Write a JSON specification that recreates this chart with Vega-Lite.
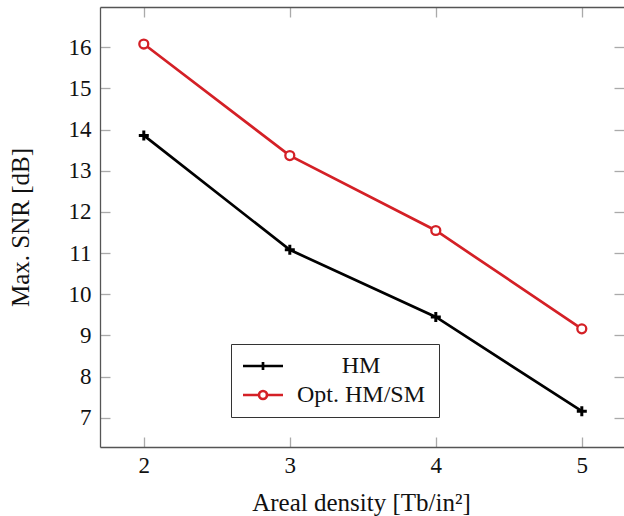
{
  "$schema": "https://vega.github.io/schema/vega-lite/v6.json",
  "width": 524,
  "height": 440,
  "autosize": {"type": "none"},
  "padding": {"left": 100, "top": 7, "right": 0, "bottom": 69},
  "background": "white",
  "config": {
    "view": {"stroke": null},
    "font": "Liberation Serif",
    "axis": {
      "grid": false,
      "labelFont": "Liberation Serif",
      "titleFont": "Liberation Serif",
      "labelFontSize": 23,
      "titleFontSize": 25,
      "labelColor": "#111",
      "titleColor": "#111",
      "titleFontWeight": "normal",
      "domainColor": "#555",
      "domainWidth": 1.3,
      "tickColor": "#aaa",
      "tickWidth": 1.3,
      "tickSize": -10
    }
  },
  "resolve": {"axis": {"x": "independent", "y": "independent"}},
  "data": {
    "values": [
      {"density": 2, "snr": 13.86, "series": "HM"},
      {"density": 3, "snr": 11.08, "series": "HM"},
      {"density": 4, "snr": 9.45, "series": "HM"},
      {"density": 5, "snr": 7.16, "series": "HM"},
      {"density": 2, "snr": 16.08, "series": "Opt.  HM/SM"},
      {"density": 3, "snr": 13.37, "series": "Opt.  HM/SM"},
      {"density": 4, "snr": 11.55, "series": "Opt.  HM/SM"},
      {"density": 5, "snr": 9.16, "series": "Opt.  HM/SM"}
    ]
  },
  "encoding": {
    "x": {
      "field": "density", "type": "quantitative",
      "scale": {"domain": [1.7, 5.289], "nice": false, "zero": false},
      "axis": null
    },
    "y": {
      "field": "snr", "type": "quantitative",
      "scale": {"domain": [6.29, 16.98], "nice": false, "zero": false},
      "axis": null
    }
  },
  "layer": [
    {
      "mark": {"type": "rule", "opacity": 0},
      "encoding": {
        "x": {
          "field": "density", "type": "quantitative",
          "axis": {
            "orient": "bottom",
            "values": [2, 3, 4, 5], "format": "d",
            "title": "Areal density  [Tb/in²]",
            "labelPadding": 17,
            "titleX": 261, "titleAlign": "center",
            "titleY": 63, "titleBaseline": "alphabetic"
          }
        },
        "y": {
          "field": "snr", "type": "quantitative",
          "axis": {
            "orient": "left",
            "values": [7, 8, 9, 10, 11, 12, 13, 14, 15, 16], "format": "d",
            "title": "Max. SNR [dB]",
            "labelPadding": 19,
            "titleAngle": -90, "titleX": -72, "titleY": 220,
            "titleBaseline": "alphabetic", "titleAlign": "center"
          }
        }
      }
    },
    {
      "mark": {"type": "rule", "opacity": 0},
      "encoding": {
        "x": {"field": "density", "type": "quantitative", "axis": {"orient": "top", "values": [2, 3, 4, 5], "labels": false, "title": null}},
        "y": {"field": "snr", "type": "quantitative", "axis": {"orient": "right", "values": [7, 8, 9, 10, 11, 12, 13, 14, 15, 16], "labels": false, "title": null, "domain": false}}
      }
    },
    {
      "transform": [{"filter": "datum.series === 'HM'"}],
      "mark": {"type": "line", "color": "black", "strokeWidth": 2.7}
    },
    {
      "transform": [{"filter": "datum.series !== 'HM'"}],
      "mark": {"type": "line", "color": "#d42026", "strokeWidth": 2.7}
    },
    {
      "transform": [{"filter": "datum.series === 'HM'"}],
      "mark": {"type": "point", "shape": "M-1,0H1M0,-1V1", "size": 100, "filled": false, "stroke": "black", "strokeWidth": 3, "opacity": 1}
    },
    {
      "transform": [{"filter": "datum.series !== 'HM'"}],
      "mark": {"type": "point", "shape": "circle", "size": 80, "filled": false, "fill": "white", "fillOpacity": 1, "stroke": "#d42026", "strokeWidth": 2.3, "opacity": 1}
    },
    {
      "mark": {"type": "point", "filled": false, "opacity": 0},
      "encoding": {
        "color": {
          "field": "series", "type": "nominal",
          "scale": {"domain": ["HM", "Opt.  HM/SM"], "range": ["black", "#d42026"]},
          "legend": {
            "title": null,
            "orient": "none",
            "legendX": 131,
            "legendY": 337,
            "symbolOpacity": 1,
            "symbolSize": 400,
            "symbolStrokeWidth": 2.7,
            "labelFont": "Liberation Serif",
            "labelFontSize": 24,
            "labelColor": "#111",
            "labelAlign": "center",
            "labelOffset": 96,
            "rowPadding": 5,
            "padding": 10,
            "strokeColor": "#333",
            "fillColor": "white"
          }
        },
        "shape": {
          "field": "series", "type": "nominal",
          "scale": {"domain": ["HM", "Opt.  HM/SM"], "range": ["M-1,0H3M1,-0.4V0.4", "M-1,0H0.6A0.4,0.4,0,1,0,1.4,0A0.4,0.4,0,1,0,0.6,0M1.4,0H3"]},
          "legend": {
            "title": null,
            "orient": "none",
            "legendX": 131,
            "legendY": 337,
            "symbolOpacity": 1,
            "symbolSize": 400,
            "symbolStrokeWidth": 2.7,
            "labelFont": "Liberation Serif",
            "labelFontSize": 24,
            "labelColor": "#111",
            "labelAlign": "center",
            "labelOffset": 96,
            "rowPadding": 5,
            "padding": 10,
            "strokeColor": "#333",
            "fillColor": "white"
          }
        }
      }
    }
  ]
}
